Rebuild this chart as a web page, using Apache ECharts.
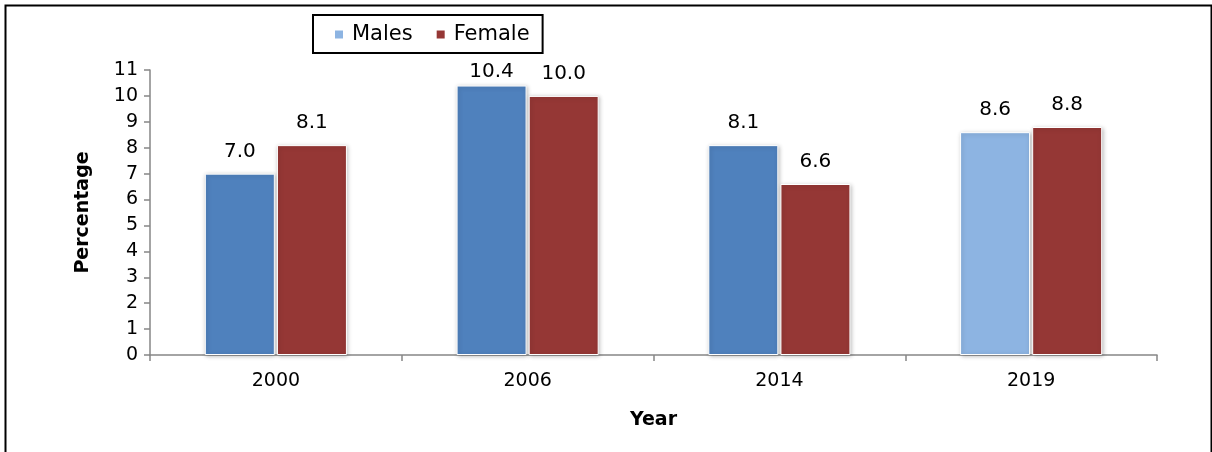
<!DOCTYPE html>
<html>
<head>
<meta charset="utf-8">
<script src="https://cdn.jsdelivr.net/npm/echarts@6/dist/echarts.min.js"></script>
<style>
  html, body { margin: 0; padding: 0; background: #fff; }
  #container { width: 1212px; height: 452px; }
</style>
</head>
<body>
<div id="container"></div>
<script>
var years = ['2000', '2006', '2014', '2019'];
var males = [7.0, 10.4, 8.1, 8.6];
var female = [8.1, 10.0, 6.6, 8.8];
// 2019 males bar is drawn in the lighter blue, like the legend key
var malesColors = ['#4F81BD', '#4F81BD', '#4F81BD', '#8DB4E2'];

var chart = echarts.init(document.getElementById('container'));
var font = '"DejaVu Sans", sans-serif';

var barStyle = {
    borderColor: '#fff',
    borderWidth: 1,
    shadowBlur: 4,
    shadowColor: 'rgba(0, 0, 0, 0.25)',
    shadowOffsetX: 1,
    shadowOffsetY: 1
};

var labelStyle = {
    show: true,
    position: 'top',
    distance: 12,
    fontSize: 20,
    fontFamily: font,
    color: '#000',
    formatter: function (p) { return p.value.toFixed(1); }
};

var option = {
    animation: false,
    backgroundColor: '#fff',
    textStyle: { fontFamily: font },
    legend: {
        left: 313,
        top: 15,
        padding: [9, 13, 8, 20],
        borderColor: '#000',
        borderWidth: 2,
        itemWidth: 10,
        itemHeight: 10,
        itemGap: 22,
        icon: 'rect',
        textStyle: { fontSize: 21, color: '#000', fontFamily: font, padding: [0, 0, 0, 3] },
        data: ['Males', 'Female']
    },
    grid: { left: 150, right: 55, top: 70, bottom: 97, containLabel: false },
    xAxis: {
        type: 'category',
        data: years,
        name: 'Year',
        nameLocation: 'middle',
        nameGap: 56,
        nameTextStyle: { fontSize: 19, fontWeight: 'bold', color: '#000', fontFamily: font },
        axisLine: { lineStyle: { color: '#868686', width: 1.5 } },
        axisTick: { show: true, length: 6, lineStyle: { color: '#868686', width: 1.5 } },
        axisLabel: { fontSize: 19, color: '#000', margin: 17, fontFamily: font }
    },
    yAxis: {
        type: 'value',
        min: 0,
        max: 11,
        interval: 1,
        name: 'Percentage',
        nameLocation: 'middle',
        nameGap: 57,
        nameRotate: 90,
        nameTextStyle: { fontSize: 19, fontWeight: 'bold', color: '#000', fontFamily: font },
        splitLine: { show: false },
        axisLine: { show: true, lineStyle: { color: '#868686', width: 1.5 } },
        axisTick: { show: true, length: 6, lineStyle: { color: '#868686', width: 1.5 } },
        axisLabel: { fontSize: 19, color: '#000', margin: 12, fontFamily: font }
    },
    // keep value labels from rising above the top of the plot area
    labelLayout: function (params) {
        var minTop = 62;
        if (params.labelRect.y < minTop) {
            return { dy: minTop - params.labelRect.y };
        }
        return {};
    },
    series: [{
        name: 'Males',
        type: 'bar',
        barWidth: 70,
        barGap: '3%',
        color: '#8DB4E2',
        itemStyle: barStyle,
        label: labelStyle,
        data: males.map(function (v, i) {
            return { value: v, itemStyle: { color: malesColors[i] } };
        })
    }, {
        name: 'Female',
        type: 'bar',
        barWidth: 70,
        barGap: '3%',
        color: '#953735',
        itemStyle: barStyle,
        label: labelStyle,
        data: female
    }],
    graphic: [{
        type: 'rect',
        left: 3,
        top: 3,
        shape: { width: 1206, height: 470 },
        style: { fill: null, stroke: '#000', lineWidth: 2 },
        silent: true
    }]
};

chart.setOption(option);
</script>
</body>
</html>
